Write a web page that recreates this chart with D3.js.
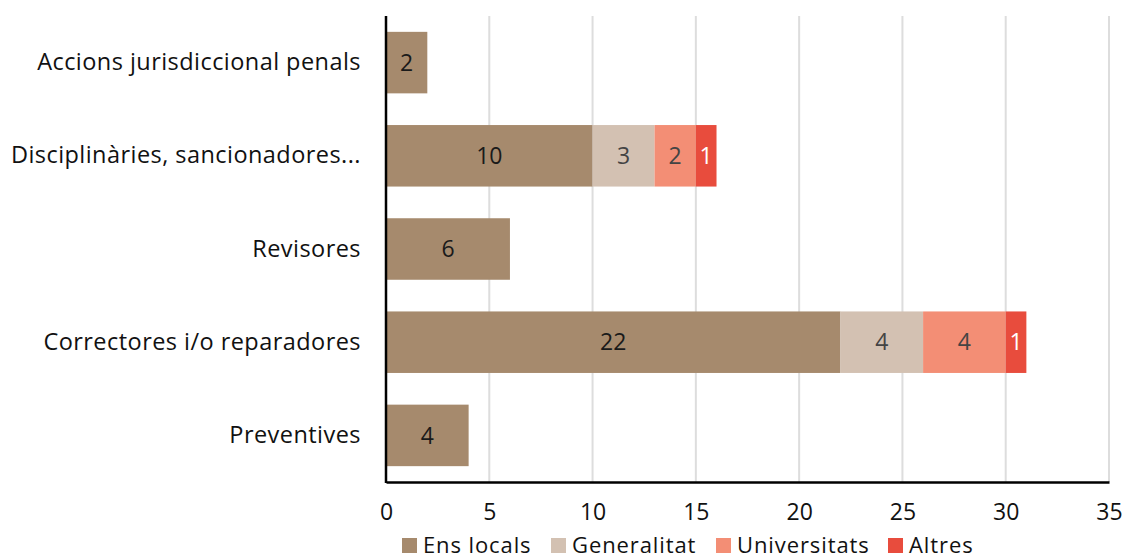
<!DOCTYPE html>
<html><head><meta charset="utf-8">
<script src="https://cdn.jsdelivr.net/npm/d3@7"></script>
<style>body{margin:0;background:#fff}svg{display:block;font-family:"Open Sans","Noto Sans",sans-serif}</style>
</head><body><svg id="c" width="1125" height="559"></svg>
<script>
const categories = ["Accions jurisdiccional penals","Disciplinàries, sancionadores...","Revisores","Correctores i/o reparadores","Preventives"];
const seriesNames = ["Ens locals","Generalitat","Universitats","Altres"];
const ensLocals   = [2,10,6,22,4];
const generalitat = [0,3,0,4,0];
const universitats= [0,2,0,4,0];
const altres      = [0,1,0,1,0];
const xTicks = [0,5,10,15,20,25,30,35];
const colors = ["#a68a6d","#d3c1b2","#f38e75","#e84c3d"];
const labelColors = ["#1a1a1a","#444","#444","#fff"];
const FONT = "'Open Sans','Noto Sans',sans-serif";

const svg = d3.select("#c");
const m = {l:386, r:1109, t:16, b:482};
const x = d3.scaleLinear().domain([0,35]).range([m.l,m.r]);
const y = d3.scaleBand().domain(categories).range([m.t,m.b]).paddingInner(0.34).paddingOuter(0.17);

// grid
svg.append("g").selectAll("line").data(xTicks.slice(1)).join("line")
  .attr("x1",d=>x(d)).attr("x2",d=>x(d)).attr("y1",m.t).attr("y2",m.b)
  .attr("stroke","#dddddd").attr("stroke-width",2);

const rows = categories.map((c,i)=>({cat:c, vals:[ensLocals[i],generalitat[i],universitats[i],altres[i]]}));
const stacked = d3.stack().keys([0,1,2,3]).value((d,k)=>d.vals[k])(rows);

const g = svg.append("g");
stacked.forEach((layer,k)=>{
  layer.forEach((seg,i)=>{
    const v = seg[1]-seg[0];
    if(v<=0) return;
    g.append("rect").attr("x",x(seg[0])).attr("y",y(categories[i]))
      .attr("width",x(seg[1])-x(seg[0])).attr("height",y.bandwidth())
      .attr("fill",colors[k]);
    g.append("text").attr("x",(x(seg[0])+x(seg[1]))/2).attr("y",y(categories[i])+y.bandwidth()/2)
      .attr("dy","0.36em").attr("text-anchor","middle").attr("font-size",23)
      .attr("fill",labelColors[k]).text(v);
  });
});

// axes
const xa = svg.append("g").attr("transform",`translate(0,${m.b})`)
  .call(d3.axisBottom(x).tickValues(xTicks).tickSize(0).tickPadding(22));
xa.select(".domain").attr("stroke","#000").attr("stroke-width",2.5);
xa.selectAll("text").attr("font-size",23).attr("fill","#111").attr("font-family",FONT);
svg.append("line").attr("x1",m.l).attr("x2",m.l).attr("y1",m.t).attr("y2",m.b+1)
  .attr("stroke","#000").attr("stroke-width",2.5);

const ya = svg.append("g").attr("transform",`translate(${m.l},0)`)
  .call(d3.axisLeft(y).tickSize(0).tickPadding(25));
ya.select(".domain").remove();
ya.selectAll("text").attr("font-size",23.5).attr("letter-spacing","0.45px").attr("fill","#111").attr("font-family",FONT);

// legend
const legX = [402,551,716,888];
const leg = svg.append("g");
seriesNames.forEach((n,k)=>{
  leg.append("rect").attr("x",legX[k]).attr("y",538).attr("width",15).attr("height",15).attr("fill",colors[k]);
  leg.append("text").attr("x",legX[k]+21).attr("y",545).attr("dy","0.36em").attr("font-size",22)
    .attr("letter-spacing","0.9px").attr("fill","#111").text(n);
});
</script></body></html>
